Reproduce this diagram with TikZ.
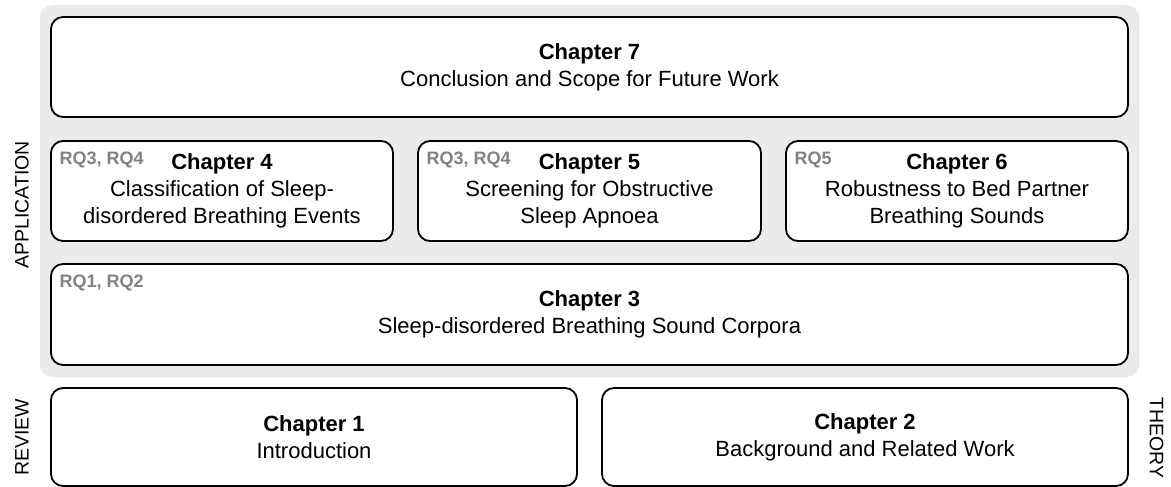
\documentclass[tikz,border=0pt]{standalone}
\usepackage{fontspec}
\setmainfont{Liberation Sans}

\definecolor{panelgray}{RGB}{235,235,235}
\definecolor{rqgray}{RGB}{130,130,130}

\tikzset{
  panel/.style={fill=panelgray, rounded corners=12pt},
  chbox/.style={draw=black, line width=1.8pt, fill=white, rounded corners=12pt,
    align=center, inner sep=0pt, outer sep=0pt,
    font=\fontsize{22}{27}\selectfont},
  rqlabel/.style={text=rqgray, font=\fontsize{18}{20}\selectfont\bfseries,
    anchor=base west, inner sep=0pt},
  sidelabel/.style={font=\fontsize{19.5}{22}\selectfont, inner sep=0pt}
}

\begin{document}
\begin{tikzpicture}[x=1pt, y=1pt]
  \useasboundingbox (0,0) rectangle (1171,-487);

  % shaded application block
  \fill[panel] (40,-5) rectangle (1139,-377);

  % chapters
  \node[chbox, minimum width=1077pt, minimum height=100pt] (c7) at (589.5,-67)
    {{\bfseries Chapter 7}\\Conclusion and Scope for Future Work};

  \node[chbox, minimum width=342pt, minimum height=100pt] (c4) at (222,-191)
    {{\bfseries Chapter 4}\\Classification of Sleep-\\disordered Breathing Events};
  \node[chbox, minimum width=343pt, minimum height=100pt] (c5) at (589.5,-191)
    {{\bfseries Chapter 5}\\Screening for Obstructive\\Sleep Apnoea};
  \node[chbox, minimum width=342pt, minimum height=100pt] (c6) at (957,-191)
    {{\bfseries Chapter 6}\\Robustness to Bed Partner\\Breathing Sounds};

  \node[chbox, minimum width=1077pt, minimum height=101pt] (c3) at (589.5,-314.5)
    {{\bfseries Chapter 3}\\Sleep-disordered Breathing Sound Corpora};

  \node[chbox, minimum width=526pt, minimum height=98pt] (c1) at (314,-437)
    {{\bfseries Chapter 1}\\Introduction};
  \node[chbox, minimum width=526pt, minimum height=98pt] (c2) at (865,-437)
    {{\bfseries Chapter 2}\\Background and Related Work};

  % research questions
  \node[rqlabel] (rq4) at ([xshift=8.5pt,yshift=-23pt]c4.north west) {RQ3, RQ4};
  \node[rqlabel] (rq5) at ([xshift=8.5pt,yshift=-23pt]c5.north west) {RQ3, RQ4};
  \node[rqlabel] (rq6) at ([xshift=8.5pt,yshift=-23pt]c6.north west) {RQ5};
  \node[rqlabel] (rq3) at ([xshift=8.5pt,yshift=-23pt]c3.north west) {RQ1, RQ2};

  % side labels
  \node[sidelabel, rotate=90] (lapp) at (22,-205) {APPLICATION};
  \node[sidelabel, rotate=90] (lrev) at (22,-437.5) {REVIEW};
  \node[sidelabel, rotate=-90] (lthe) at (1156.5,-438) {THEORY};
\end{tikzpicture}
\end{document}
